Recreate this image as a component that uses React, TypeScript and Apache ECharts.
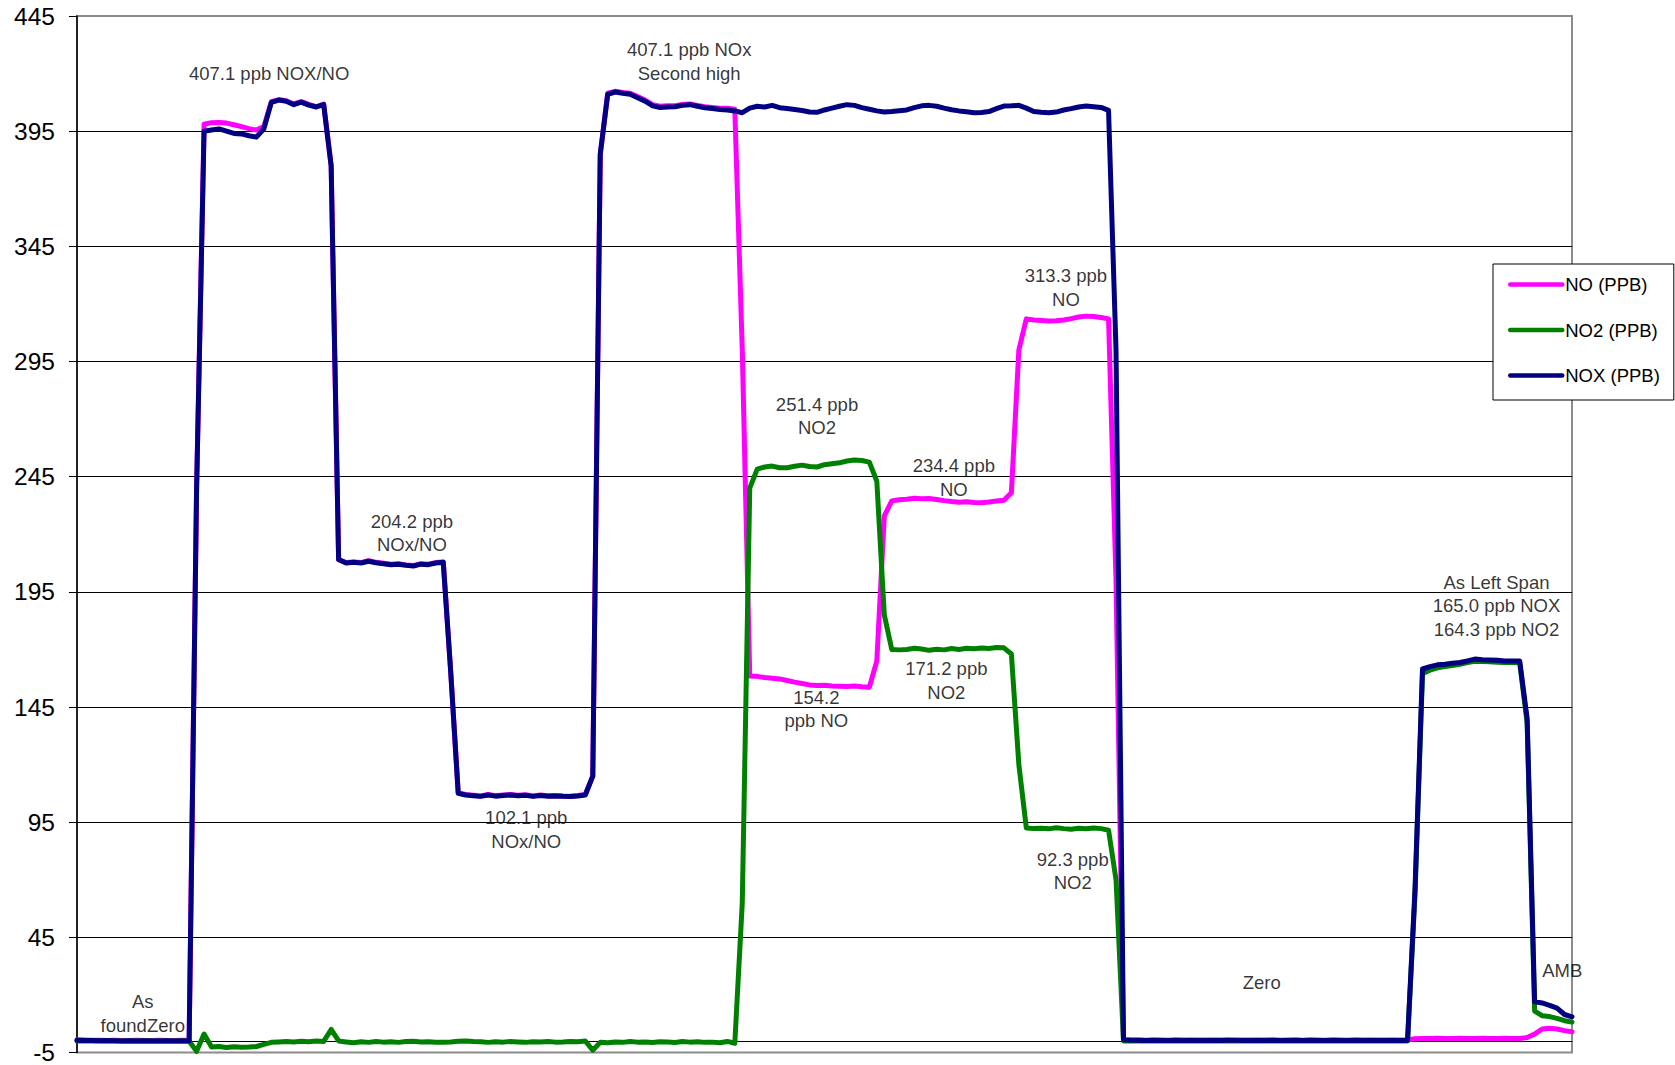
import React, { useEffect, useRef } from "react";
import * as echarts from "echarts";

// NOX (PPB) readings, one per sample
const noxValues: number[] = [
  0.3, 0.2, 0.2, 0.1, 0.2, 0.1, 0, 0.1, 0, 0.1,
  0, 0, 0.1, 0, 0, 0, 240, 395, 395.5, 396,
  395, 394, 393.8, 393, 392.4, 396, 407.5, 408.5, 408, 406.5,
  407.6, 406.3, 405.5, 406.5, 380, 209, 207.5, 207.8, 207.5, 208.3,
  207.6, 207.2, 206.8, 207, 206.5, 206.2, 207, 206.8, 207.5, 207.8,
  160, 107.5, 106.8, 106.5, 106.2, 106.8, 106.3, 106.6, 106.8, 106.5,
  106.7, 106.2, 106.6, 106.3, 106.4, 106.2, 106.1, 106.4, 106.8, 115,
  385, 411, 412, 411.5, 411, 409.5, 408, 406, 405.3, 405.5,
  405.6, 406.2, 406.5, 405.8, 405.2, 404.8, 404.4, 404.2, 403.8, 403,
  405, 405.8, 405.5, 406.2, 405.2, 404.8, 404.4, 404, 403.3, 403.2,
  404.2, 405, 405.8, 406.5, 406.2, 405.2, 404.5, 403.8, 403.3, 403.5,
  403.9, 404.2, 405.2, 406, 406.2, 405.8, 405, 404.3, 403.8, 403.4,
  403, 403.1, 403.5, 404.8, 405.9, 406, 406.2, 405, 403.5, 403.2,
  403, 403.3, 404.2, 404.8, 405.5, 405.9, 405.6, 405.3, 404, 300,
  0.5, 0.3, 0.3, 0.2, 0.3, 0.2, 0.2, 0.3, 0.2, 0.3,
  0.2, 0.2, 0.3, 0.2, 0.3, 0.3, 0.2, 0.2, 0.3, 0.2,
  0.3, 0.2, 0.2, 0.3, 0.2, 0.3, 0.2, 0.2, 0.3, 0.2,
  0.2, 0.3, 0.2, 0.3, 0.2, 0.2, 0.3, 0.2, 0.3, 66,
  161.5, 162.5, 163.3, 163.6, 164, 164.3, 165, 165.8, 165.5, 165.4,
  165.3, 165, 165, 165, 140, 17, 16.5, 15.5, 14.3, 11.5,
  10.5,
];

// NO (PPB) readings
const noValues: number[] = [
  0.5, 0.4, 0.3, 0.3, 0.2, 0.3, 0.2, 0.2, 0.3, 0.2,
  0.2, 0.3, 0.2, 0.2, 0.3, 0.2, 240, 398, 398.7, 398.8,
  398.5, 397.8, 397, 396.1, 395.5, 397, 407.8, 408.7, 408.2, 406.8,
  407.8, 406.6, 405.6, 406.8, 380, 209, 207.7, 208, 207.7, 208.5,
  207.8, 207.4, 207, 207.2, 206.7, 206.4, 207.2, 207, 207.7, 208,
  160, 107.7, 107, 106.7, 106.4, 107, 106.5, 106.8, 107, 106.7,
  106.9, 106.4, 106.8, 106.5, 106.6, 106.4, 106.3, 106.6, 107, 115,
  385, 411.5, 412.3, 411.8, 411.5, 410, 408.5, 406.5, 405.8, 406,
  406, 406.6, 406.8, 406.2, 405.6, 405.3, 405, 405, 404.5, 300,
  158.5, 158.3, 157.8, 157.5, 157.2, 156.5, 155.8, 155.2, 154.6, 154.3,
  154.4, 154.1, 154, 153.9, 154.1, 153.8, 153.6, 165, 228, 234.5,
  235, 235.2, 235.6, 235.4, 235.5, 235.1, 234.6, 234.2, 233.9, 234.1,
  233.8, 233.7, 234, 234.4, 234.8, 238, 300, 313.5, 313, 312.8,
  312.6, 312.7, 313, 313.6, 314.3, 314.7, 314.5, 314.1, 313.5, 200,
  0.5, 0.4, 0.4, 0.3, 0.4, 0.4, 0.3, 0.4, 0.4, 0.3,
  0.4, 0.4, 0.3, 0.4, 0.4, 0.3, 0.4, 0.4, 0.3, 0.4,
  0.4, 0.3, 0.4, 0.4, 0.3, 0.4, 0.4, 0.3, 0.4, 0.4,
  0.3, 0.4, 0.4, 0.3, 0.4, 0.4, 0.3, 0.4, 0.4, 1,
  1.1, 1.1, 1.2, 1.1, 1.1, 1.2, 1.1, 1.1, 1.2, 1.1,
  1.1, 1.2, 1.1, 1.1, 1.5, 3, 5.2, 5.5, 5.2, 4.5,
  4,
];

// NO2 (PPB) readings
const no2Values: number[] = [
  0, 0, 0, 0, 0, 0, 0, 0, 0, 0,
  0, 0, 0, 0, 0, 0, -4.5, 3, -2.6, -2.4,
  -2.8, -2.5, -2.7, -2.6, -2.4, -1.5, -0.6, -0.4, -0.2, -0.4,
  -0.1, -0.3, 0, -0.2, 5, 0, -0.4, -0.8, -0.3, -0.6,
  -0.2, -0.5, -0.3, -0.6, -0.2, -0.1, -0.4, -0.3, -0.5, -0.6,
  -0.4, -0.1, 0, -0.2, -0.3, -0.6, -0.3, -0.5, -0.2, -0.4,
  -0.6, -0.3, -0.4, -0.2, -0.5, -0.4, -0.2, -0.3, 0, -4,
  -0.6, -0.8, -0.4, -0.6, -0.2, -0.5, -0.4, -0.7, -0.3, -0.4,
  -0.7, -0.2, -0.5, -0.3, -0.6, -0.5, -0.8, -0.2, -1, 60,
  240, 248.3, 249.2, 249.6, 248.9, 248.9, 249.5, 250, 249.4, 249.2,
  250.2, 250.6, 251, 251.8, 252.2, 252, 251.3, 243, 185, 170,
  169.8, 170, 170.5, 170.2, 169.6, 170.1, 169.8, 170.4, 170, 170.5,
  170.3, 170.6, 170.4, 170.8, 170.7, 168, 120, 92.5, 92.2, 92.4,
  92.1, 92.6, 92.2, 91.9, 92.4, 92.1, 92.5, 92.2, 91.5, 70,
  0, 0, 0, 0, 0, 0, 0, 0, 0, 0,
  0, 0, 0, 0, 0, 0, 0, 0, 0, 0,
  0, 0, 0, 0, 0, 0, 0, 0, 0, 0,
  0, 0, 0, 0, 0, 0, 0, 0, 0, 64,
  159.5, 161, 162, 162.6, 163, 163.5, 164.3, 164.8, 164.8, 164.6,
  164.4, 164.3, 164.3, 164.2, 138, 13, 11, 10.6, 9.8, 8.8,
  8.2,
];

const seriesNames = ["NO (PPB)", "NO2 (PPB)", "NOX (PPB)"];
const seriesColors = ["#FF00FF", "#008000", "#000080"];

// Y axis
const yMin = -5;
const yMax = 445;
const yStep = 50;

// Text annotations (anchor: sample index, value)
const annotationTexts = [
  "407.1 ppb NOX/NO",
  "407.1 ppb NOx\nSecond high",
  "204.2 ppb\nNOx/NO",
  "102.1 ppb\nNOx/NO",
  "251.4 ppb\nNO2",
  "154.2\nppb NO",
  "234.4 ppb\nNO",
  "171.2 ppb\nNO2",
  "313.3 ppb\nNO",
  "92.3 ppb\nNO2",
  "Zero",
  "As Left Span\n165.0 ppb NOX\n164.3 ppb NO2",
  "AMB",
  "As\nfoundZero",
];
const annotationSample = [25.7, 81.9, 44.8, 60.1, 99, 98.9, 117.3, 116.3, 132.3, 133.2, 158.5, 189.9, 198.7, 8.8];
const annotationValue = [420.2, 425.3, 220.5, 91.9, 271.3, 144.2, 244.6, 156.4, 327.2, 73.9, 25.4, 188.9, 30.8, 11.9];

const FONT = "'Liberation Sans', Arial, Helvetica, sans-serif";

export default function App() {
  const ref = useRef<HTMLDivElement>(null);

  useEffect(() => {
    if (!ref.current) return;
    const chart = echarts.init(ref.current, null, { renderer: "svg" });
    const samples = noxValues.map((_, i) => String(i + 1));
    const lastIndex = samples.length - 1;
    const seriesData = [noValues, no2Values, noxValues];

    const lineSeries = seriesNames.map((name, k) => ({
      name,
      type: "line",
      xAxisIndex: 0,
      yAxisIndex: 0,
      data: seriesData[k],
      symbol: "none",
      smooth: false,
      color: seriesColors[k],
      lineStyle: { color: seriesColors[k], width: 5, cap: "round", join: "round" },
      emphasis: { disabled: true },
      z: 2 + k,
    }));

    const option: any = {
      animation: false,
      backgroundColor: "#ffffff",
      textStyle: { fontFamily: FONT },
      grid: {
        left: 77,
        top: 16,
        width: 1495,
        height: 1038,
        show: true,
        borderColor: "#8c8c8c",
        borderWidth: 2,
        backgroundColor: "#ffffff",
        containLabel: false,
      },
      legend: {
        data: seriesNames,
        orient: "vertical",
        left: 1493,
        top: 264,
        padding: [11, 14, 15, 15],
        itemWidth: 52,
        itemHeight: 18,
        itemGap: 26.5,
        backgroundColor: "#ffffff",
        borderColor: "#000000",
        borderWidth: 1,
        selectedMode: false,
        itemStyle: { opacity: 0, borderWidth: 0 },
        lineStyle: { width: 4.5, cap: "round" },
        textStyle: { color: "#000", fontSize: 18.5, fontFamily: FONT, lineHeight: 18, padding: [0, 0, 0, -2] },
      },
      xAxis: [
        {
          type: "category",
          data: samples,
          boundaryGap: false,
          axisLine: { show: true, onZero: true, lineStyle: { color: "#000", width: 1 } },
          axisTick: { show: false },
          axisLabel: { show: false },
          splitLine: { show: false },
        },
        {
          type: "value",
          min: 0,
          max: lastIndex,
          show: false,
        },
      ],
      yAxis: {
        type: "value",
        min: yMin,
        max: yMax,
        interval: yStep,
        axisLine: { show: true, onZero: false, lineStyle: { color: "#000", width: 1.5 } },
        axisTick: { show: true, inside: false, length: 8, lineStyle: { color: "#000", width: 1 } },
        axisLabel: { color: "#000", fontSize: 24.5, fontFamily: FONT, margin: 22 },
        splitLine: {
          show: true,
          showMinLine: false,
          showMaxLine: false,
          lineStyle: { color: "#000", width: 1 },
        },
      },
      series: [
        ...lineSeries,
        {
          name: "notes",
          type: "scatter",
          xAxisIndex: 1,
          yAxisIndex: 0,
          silent: true,
          symbolSize: 1,
          itemStyle: { color: "rgba(0,0,0,0)" },
          z: 10,
          data: annotationSample.map((s, i) => [s, annotationValue[i]]),
          label: {
            show: true,
            position: "inside",
            formatter: (p: any) => annotationTexts[p.dataIndex],
            color: "#000",
            fontSize: 18.5,
            lineHeight: 23.5,
            fontFamily: FONT,
            align: "center",
            verticalAlign: "middle",
          },
          emphasis: { disabled: true },
        },
      ],
    };
    chart.setOption(option);
    return () => chart.dispose();
  }, []);

  return (
    <div
      ref={ref}
      style={{ position: "fixed", left: 0, top: 0, width: 1675, height: 1065, background: "#fff" }}
    />
  );
}
